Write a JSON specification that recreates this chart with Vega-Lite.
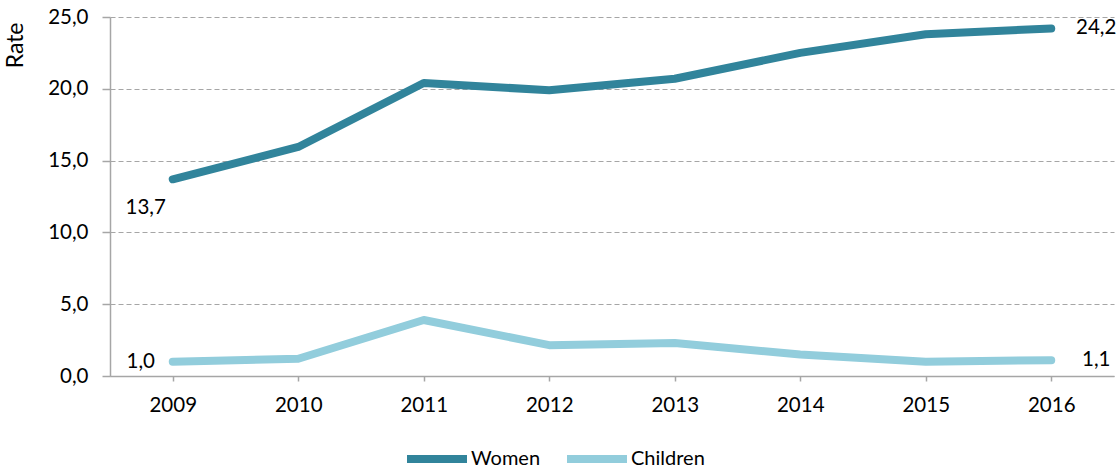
{
  "$schema": "https://vega.github.io/schema/vega-lite/v6.json",
  "width": 1004,
  "height": 359,
  "autosize": "none",
  "padding": {"left": 110, "top": 17, "right": 4, "bottom": 94},
  "background": "white",
  "config": {
    "font": "Lato",
    "view": {"stroke": null},
    "axis": {"titleFontSize": 23, "titleFontWeight": "normal"}
  },
  "data": {
    "values": [
      {"year": "2009", "series": "Women", "value": 13.7, "label": "13,7"},
      {"year": "2010", "series": "Women", "value": 15.95, "label": ""},
      {"year": "2011", "series": "Women", "value": 20.4, "label": ""},
      {"year": "2012", "series": "Women", "value": 19.9, "label": ""},
      {"year": "2013", "series": "Women", "value": 20.7, "label": ""},
      {"year": "2014", "series": "Women", "value": 22.5, "label": ""},
      {"year": "2015", "series": "Women", "value": 23.8, "label": ""},
      {"year": "2016", "series": "Women", "value": 24.2, "label": "24,2"},
      {"year": "2009", "series": "Children", "value": 1.0, "label": "1,0"},
      {"year": "2010", "series": "Children", "value": 1.2, "label": ""},
      {"year": "2011", "series": "Children", "value": 3.9, "label": ""},
      {"year": "2012", "series": "Children", "value": 2.15, "label": ""},
      {"year": "2013", "series": "Children", "value": 2.3, "label": ""},
      {"year": "2014", "series": "Children", "value": 1.5, "label": ""},
      {"year": "2015", "series": "Children", "value": 1.0, "label": ""},
      {"year": "2016", "series": "Children", "value": 1.1, "label": "1,1"}
    ]
  },
  "encoding": {
    "x": {
      "field": "year",
      "type": "ordinal",
      "scale": {"type": "point", "padding": 0.5},
      "axis": {
        "title": null,
        "labelAngle": 0,
        "labelFontSize": 20.5,
        "labelColor": "#000000",
        "labelPadding": 14,
        "domainColor": "#A6A6A6",
        "domainWidth": 1.5,
        "tickColor": "#A6A6A6",
        "tickWidth": 1.5,
        "tickSize": 5,
        "grid": false
      }
    },
    "y": {
      "field": "value",
      "type": "quantitative",
      "title": "Rate",
      "scale": {"domain": [0, 25], "nice": false},
      "axis": {
        "titleFontSize": 23,
        "titleColor": "#000000",
        "titleAngle": 270,
        "titleX": -95,
        "titleY": 5,
        "titleAlign": "right",
        "titleBaseline": "middle",
        "values": [0, 5, 10, 15, 20, 25],
        "labelExpr": "replace(format(datum.value, '.1f'), '.', ',')",
        "labelFontSize": 20.5,
        "labelColor": "#000000",
        "labelPadding": 14,
        "domainColor": "#A6A6A6",
        "domainWidth": 1.5,
        "tickColor": "#A6A6A6",
        "tickWidth": 1.5,
        "tickSize": 8,
        "grid": true,
        "gridColor": "#A6A6A6",
        "gridDash": [5, 3],
        "gridWidth": 1.2
      }
    }
  },
  "layer": [
    {
      "mark": {"type": "line", "strokeWidth": 8, "strokeCap": "round", "strokeJoin": "round"},
      "encoding": {
        "color": {
          "field": "series",
          "type": "nominal",
          "scale": {"domain": ["Women", "Children"], "range": ["#31849B", "#92CDDC"]},
          "legend": {
            "title": null,
            "orient": "none",
            "direction": "horizontal",
            "legendX": 293,
            "legendY": 408,
            "symbolType": "stroke",
            "symbolSize": 3600,
            "symbolStrokeWidth": 8,
            "labelFontSize": 20,
            "labelColor": "#000000",
            "labelOffset": 0,
            "columnPadding": 10,
            "padding": 0
          }
        }
      }
    },
    {
      "transform": [{"filter": "datum.year == '2009' && datum.series == 'Women'"}],
      "mark": {"type": "text", "fontSize": 20.5, "dx": -27, "dy": 29, "color": "#000000"},
      "encoding": {"text": {"field": "label"}}
    },
    {
      "transform": [{"filter": "datum.year == '2009' && datum.series == 'Children'"}],
      "mark": {"type": "text", "fontSize": 20.5, "dx": -32, "dy": 0, "color": "#000000"},
      "encoding": {"text": {"field": "label"}}
    },
    {
      "transform": [{"filter": "datum.year == '2016'"}],
      "mark": {"type": "text", "fontSize": 20.5, "dx": 45, "dy": 0, "color": "#000000"},
      "encoding": {"text": {"field": "label"}}
    }
  ]
}
